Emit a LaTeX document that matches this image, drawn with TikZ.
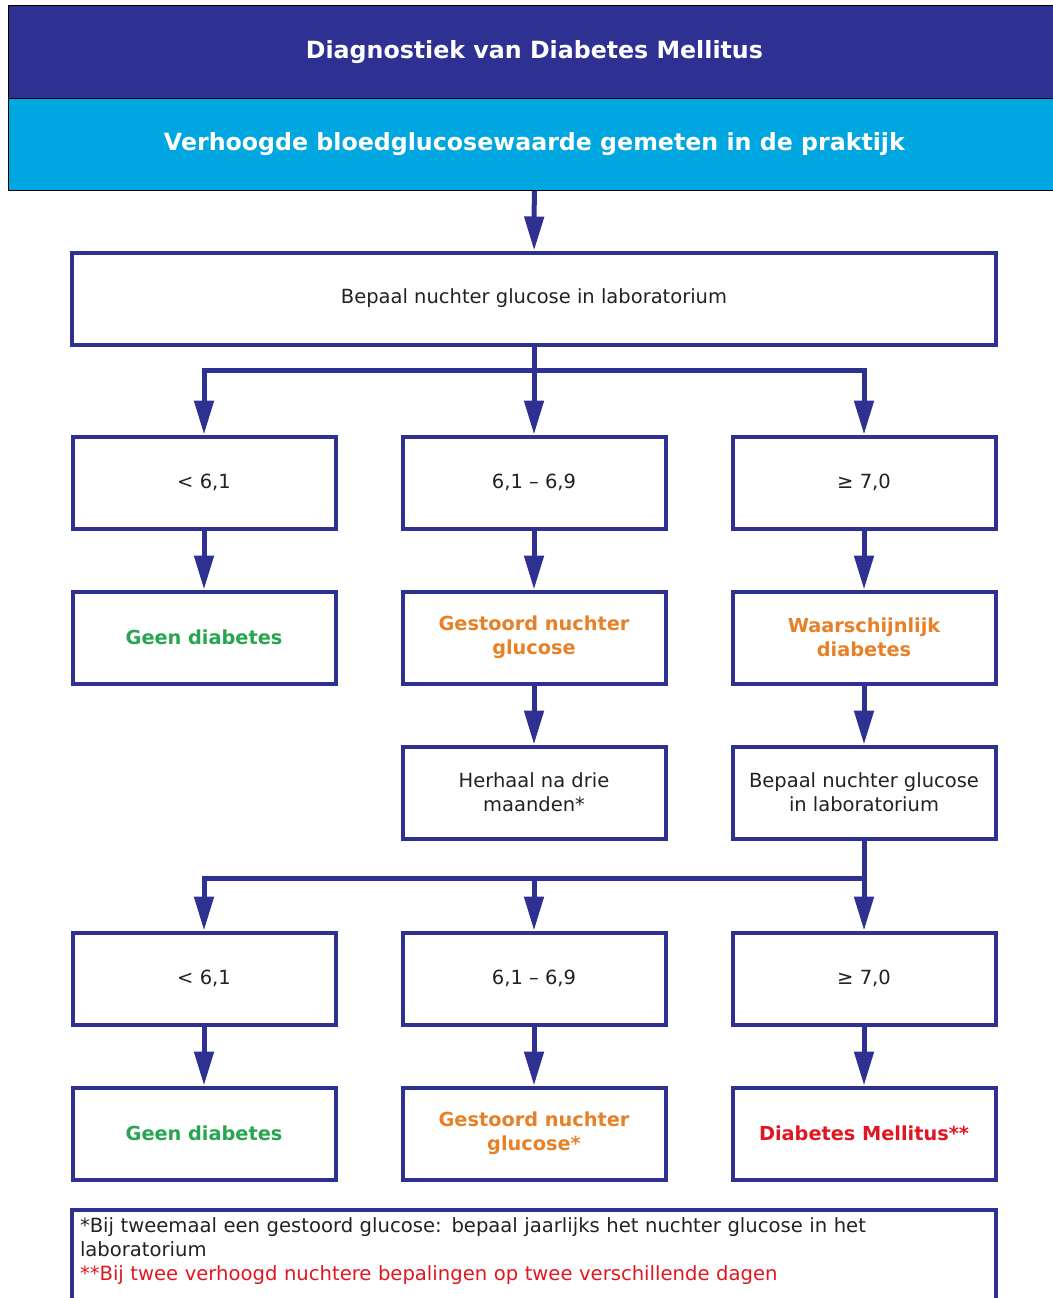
\documentclass[tikz,border=0pt]{standalone}
\usepackage{fontspec}
\setmainfont{DejaVu Sans}
\usepackage{xcolor}
\usetikzlibrary{arrows.meta,positioning}

\definecolor{navy}{RGB}{46,49,146}
\definecolor{skyband}{RGB}{0,166,224}
\definecolor{okgreen}{RGB}{40,165,80}
\definecolor{warnorange}{RGB}{232,128,40}
\definecolor{alertred}{RGB}{226,22,32}
\definecolor{bodytext}{RGB}{34,34,34}

\begin{document}
\begin{tikzpicture}[
  x=1pt, y=-1pt,
  font=\fontsize{19.5}{24}\selectfont,
  band/.style={draw=black, line width=0.8pt, text=white, anchor=north west,
               minimum width=1052pt, font=\fontsize{23.7}{28}\selectfont\bfseries},
  box/.style={draw=navy, line width=4pt, fill=white, text=bodytext,
              minimum width=263pt, minimum height=92pt, inner sep=0pt, align=center},
  verdict/.style={box, font=\fontsize{19.3}{24}\selectfont\bfseries},
  note/.style={draw=navy, line width=4pt, text=bodytext, anchor=north west,
               text width=908pt, align=left, inner xsep=8pt, inner ysep=8pt,
               text depth=110pt, font=\fontsize{19.6}{24}\selectfont},
  conn/.style={navy, line width=5pt},
  arr/.style={-{Triangle[width=19pt,length=34pt]}, navy, line width=5pt}
]
\useasboundingbox (0,0) rectangle (1052,1298);
% --- header ---
\node[band, fill=navy, minimum height=93pt] (title) at (8,5) {Diagnostiek van Diabetes Mellitus};
\node[band, fill=skyband, minimum height=92pt] (sub) at (8,98) {Verhoogde bloedglucosewaarde gemeten in de praktijk};
% --- first measurement ---
\node[box, minimum width=924pt] (lab) at (534,298.5) {Bepaal nuchter glucose in laboratorium};
\node[box, below=88pt of lab] (b1) {6,1 -- 6,9};
\node[box, left=63pt of b1] (a1) {< 6,1};
\node[box, right=63pt of b1] (c1) {≥ 7,0};
\node[verdict, text=okgreen, below=59pt of a1] (a2) {Geen diabetes};
\node[verdict, text=warnorange, below=59pt of b1] (b2) {Gestoord nuchter\\glucose};
\node[verdict, text=warnorange, below=59pt of c1] (c2) {Waarschijnlijk\\diabetes};
\node[box, below=59pt of b2] (b3) {Herhaal na drie\\maanden*};
\node[box, below=59pt of c2] (c3) {Bepaal nuchter glucose\\in laboratorium};
% --- second measurement ---
\node[box, below=90pt of b3] (b4) {6,1 -- 6,9};
\node[box, left=63pt of b4] (a4) {< 6,1};
\node[box, right=63pt of b4] (c4) {≥ 7,0};
\node[verdict, text=okgreen, below=59pt of a4] (a5) {Geen diabetes};
\node[verdict, text=warnorange, below=59pt of b4] (b5) {Gestoord nuchter\\glucose*};
\node[verdict, text=alertred, below=59pt of c4] (c5) {Diabetes Mellitus**};
% --- footnote ---
\node[note] (notes) at (70,1208) {*Bij tweemaal een gestoord glucose: bepaal jaarlijks het nuchter glucose in het\\
  laboratorium\\
  \textcolor{alertred}{**Bij twee verhoogd nuchtere bepalingen op twee verschillende dagen}};
% --- arrows ---
\coordinate (j1) at (534,370);
\coordinate (j2) at (c3.south |- 0,878);
\draw[arr] (sub) -- (lab);
\draw[conn] (lab) -- (j1);
\draw[arr] (j1) -| (a1.north);
\draw[arr] (j1) -- (b1);
\draw[arr] (j1) -| (c1.north);
\draw[arr] (a1) -- (a2);
\draw[arr] (b1) -- (b2);
\draw[arr] (c1) -- (c2);
\draw[arr] (b2) -- (b3);
\draw[arr] (c2) -- (c3);
\draw[arr] (c3) -- (c4);
\draw[arr] (j2) -| (a4.north);
\draw[arr] (j2) -| (b4.north);
\draw[arr] (a4) -- (a5);
\draw[arr] (b4) -- (b5);
\draw[arr] (c4) -- (c5);
\end{tikzpicture}
\end{document}
